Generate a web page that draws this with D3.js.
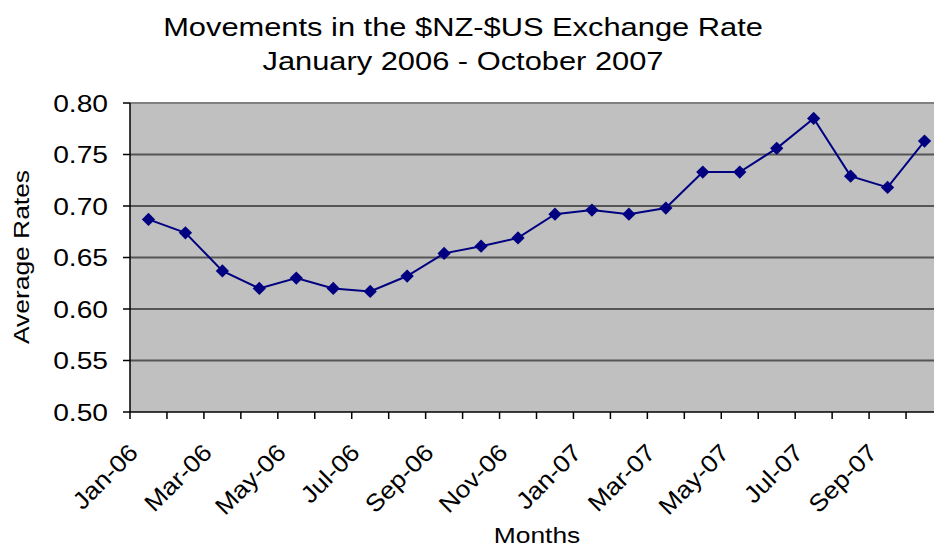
<html>
<head>
  <style>
    body { margin: 0; background: #fff; }
    svg text { font-family: "Liberation Sans", Arial, sans-serif; fill: #000; }
  </style>
</head>
<body>
  <div id="chart"></div>
  <script src="https://cdn.jsdelivr.net/npm/d3@7"></script>
  <script>
  // data
  var months = ["Jan-06", "Feb-06", "Mar-06", "Apr-06", "May-06", "Jun-06", "Jul-06", "Aug-06",
                "Sep-06", "Oct-06", "Nov-06", "Dec-06", "Jan-07", "Feb-07", "Mar-07", "Apr-07",
                "May-07", "Jun-07", "Jul-07", "Aug-07", "Sep-07", "Oct-07"];
  var rates = [0.687, 0.674, 0.637, 0.620, 0.630, 0.620, 0.617, 0.632, 0.654, 0.661, 0.669,
               0.692, 0.696, 0.692, 0.698, 0.733, 0.733, 0.756, 0.785, 0.729, 0.718, 0.763];
  var yTicks = [0.50, 0.55, 0.60, 0.65, 0.70, 0.75, 0.80];

  var W = 934, H = 547;
  var plot = { left: 130, top: 103, right: 943, bottom: 412 };
  var sx = 1.2;   // the original picture is stretched sideways

  var svg = d3.select("#chart").append("svg")
      .attr("width", W)
      .attr("height", H);

  var x = d3.scaleBand().domain(months).range([plot.left, plot.right]);
  var y = d3.scaleLinear().domain([0.5, 0.8]).range([plot.bottom, plot.top]);

  // plot area
  svg.append("rect")
      .attr("x", plot.left).attr("y", plot.top)
      .attr("width", plot.right - plot.left).attr("height", plot.bottom - plot.top)
      .style("fill", "#c0c0c0");

  // horizontal grid lines
  svg.selectAll("line.grid")
    .data(yTicks.filter(function (d) { return d > 0.5; }))
    .enter().append("line")
      .classed("grid", true)
      .attr("x1", plot.left).attr("x2", plot.right)
      .attr("y1", function (d) { return y(d); })
      .attr("y2", function (d) { return y(d); })
      .style("stroke", function (d) { return d === 0.8 ? "#808080" : "#555"; })
      .style("stroke-width", 2);

  // y axis
  svg.append("line")
      .attr("x1", plot.left).attr("x2", plot.left)
      .attr("y1", plot.top).attr("y2", plot.bottom)
      .style("stroke", "#000").style("stroke-width", 1.5);

  svg.selectAll("line.ytick")
    .data(yTicks)
    .enter().append("line")
      .attr("x1", plot.left - 7).attr("x2", plot.left)
      .attr("y1", function (d) { return y(d); })
      .attr("y2", function (d) { return y(d); })
      .style("stroke", "#000").style("stroke-width", 1.5);

  svg.selectAll("text.ylab")
    .data(yTicks)
    .enter().append("text")
      .attr("transform", function (d) {
        return "translate(" + 108 + "," + (y(d) + 8.5) + ") scale(" + sx + ",1)";
      })
      .text(function (d) { return d.toFixed(2); })
      .style("text-anchor", "end")
      .style("font-size", "23.5px");

  // x axis
  svg.append("line")
      .attr("x1", plot.left).attr("x2", plot.right)
      .attr("y1", plot.bottom).attr("y2", plot.bottom)
      .style("stroke", "#000").style("stroke-width", 1.5);

  svg.selectAll("line.xtick")
    .data(months)
    .enter().append("line")
      .attr("x1", function (d) { return x(d); })
      .attr("x2", function (d) { return x(d); })
      .attr("y1", plot.bottom).attr("y2", plot.bottom + 7)
      .style("stroke", "#000").style("stroke-width", 1.5);

  // every second month is labelled
  svg.selectAll("text.xlab")
    .data(months.filter(function (d, i) { return i % 2 === 0; }))
    .enter().append("text")
      .attr("transform", function (d) {
        var cx = x(d) + x.bandwidth() / 2 - 9;
        return "translate(" + cx + "," + (plot.bottom + 42) + ") rotate(-45) scale(1.1,1)";
      })
      .text(function (d) { return d; })
      .style("text-anchor", "end")
      .style("font-size", "24px");

  // series line
  var line = d3.line()
    .x(function (d, i) { return x(months[i]) + x.bandwidth() / 2; })
    .y(function (d) { return y(d); });

  svg.append("path")
      .attr("d", line(rates))
      .style("fill", "none")
      .style("stroke", "#000080")
      .style("stroke-width", 2);

  // diamond markers
  var diamond = d3.symbol().type(d3.symbolSquare).size(88);
  svg.selectAll("path.mark")
    .data(rates)
    .enter().append("path")
      .attr("d", diamond)
      .attr("transform", function (d, i) {
        return "translate(" + (x(months[i]) + x.bandwidth() / 2) + "," + y(d) + ") rotate(45)";
      })
      .style("fill", "#000080");

  // titles
  svg.append("text")
      .attr("transform", "translate(463,36) scale(" + sx + ",1)")
      .text("Movements in the $NZ-$US Exchange Rate")
      .style("text-anchor", "middle")
      .style("font-size", "25.7px");

  svg.append("text")
      .attr("transform", "translate(463,70) scale(" + sx + ",1)")
      .text("January 2006 - October 2007")
      .style("text-anchor", "middle")
      .style("font-size", "25.7px");

  svg.append("text")
      .attr("transform", "translate(537,543) scale(" + sx + ",1)")
      .text("Months")
      .style("text-anchor", "middle")
      .style("font-size", "22px");

  svg.append("text")
      .attr("transform", "translate(29,257) rotate(-90) scale(" + sx + ",1)")
      .text("Average Rates")
      .style("text-anchor", "middle")
      .style("font-size", "22px");
  </script>
</body>
</html>
